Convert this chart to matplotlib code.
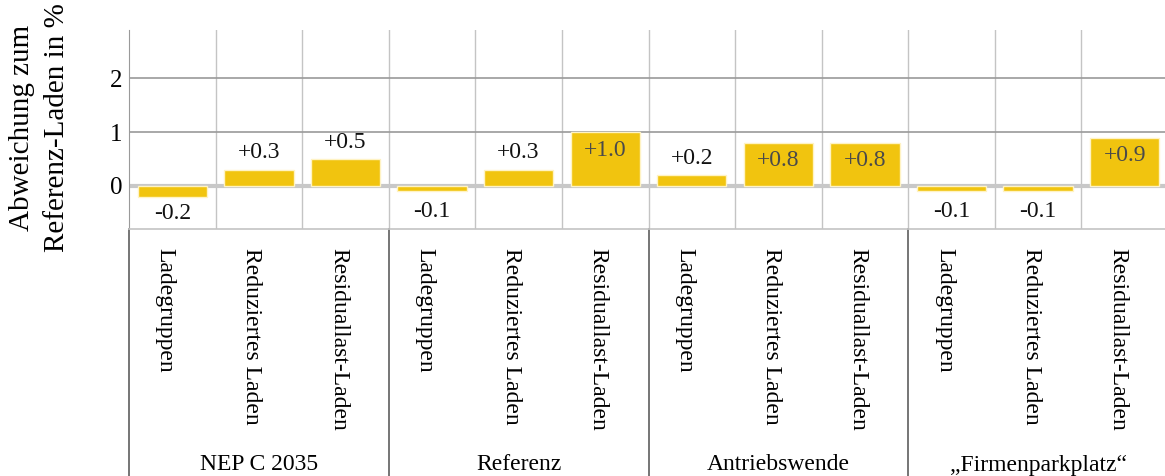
import matplotlib
matplotlib.use("Agg")
import matplotlib.pyplot as plt
import matplotlib.transforms as mtransforms
from matplotlib.lines import Line2D

plt.rcParams['font.family'] = ['Liberation Serif', 'DejaVu Serif']

groups = ["NEP C 2035", "Referenz", "Antriebswende", "\u201eFirmenparkplatz\u201c"]
methods = ["Ladegruppen", "Reduziertes Laden", "Residuallast-Laden"]
values = [
    [-0.2, 0.3, 0.5],
    [-0.1, 0.3, 1.0],
    [0.2, 0.8, 0.8],
    [-0.1, -0.1, 0.9],
]
yticks = [0, 1, 2]
ylabel = "Abweichung zum\nReferenz-Laden in %"

bar_color = "#F1C40F"
fs = 17

fig = plt.figure(figsize=(11.65, 4.76), dpi=100)
ax = fig.add_axes([129 / 1165, 1 - 229 / 476, 1039 / 1165, (229 - 30) / 476])

n_m = len(methods)
flat_vals = [v for row in values for v in row]
flat_labels = [m for _ in groups for m in methods]
xs = list(range(len(flat_vals)))

ax.set_xlim(-0.5, len(xs) - 0.5)
ax.set_ylim(-0.8, 2.9)

# grid
for xb in [i - 0.5 for i in range(1, len(xs))]:
    ax.axvline(xb, color="#c4c4c4", lw=1.0, zorder=0)
for yt in yticks[1:]:
    ax.axhline(yt, color="#9a9a9a", lw=1.2, zorder=0)
ax.axhline(0, color="#c8c8c8", lw=3.0, zorder=1)

ax.bar(xs, flat_vals, width=0.8, color=bar_color, edgecolor="#FFF3C4",
       linewidth=1.0, zorder=2)

# value labels
off = mtransforms.offset_copy
for x, v in zip(xs, flat_vals):
    txt = f"{v:+.1f}" if v > 0 else f"{v:.1f}"
    if v >= 0.75:
        t = off(ax.transData, fig=fig, x=0, y=-18, units='dots')
        ax.text(x, v, txt, ha='center', va='center', fontsize=fs,
                color="#4a4a4a", transform=t, zorder=3)
    elif v >= 0:
        t = off(ax.transData, fig=fig, x=0, y=17, units='dots')
        ax.text(x, v, txt, ha='center', va='center', fontsize=fs,
                color="#111111", transform=t, zorder=3)
    else:
        t = off(ax.transData, fig=fig, x=0, y=-17, units='dots')
        ax.text(x, min(v, -0.15), txt, ha='center', va='center', fontsize=fs,
                color="#111111", transform=t, zorder=3)

ax.set_yticks(yticks)
ax.set_yticklabels([str(t) for t in yticks], fontsize=18)
ax.tick_params(axis='y', length=0, pad=5)
ax.set_xticks([])
for s in ['top', 'right']:
    ax.spines[s].set_visible(False)
ax.spines['left'].set_color("#9a9a9a")
ax.spines['bottom'].set_color("#c4c4c4")
ax.spines['bottom'].set_linewidth(1.2)

fig.text(40 / 1165, 1 - 128 / 476, ylabel, rotation=90, ha='center',
         va='center', fontsize=21, linespacing=1.45)

# category labels below the axis
bt = mtransforms.blended_transform_factory(ax.transData, ax.transAxes)
cat_t = off(bt, fig=fig, x=-7, y=-19, units='dots')
for x, lab in zip(xs, flat_labels):
    ax.text(x, 0, lab, rotation=270, ha='center', va='top', fontsize=fs,
            transform=cat_t, clip_on=False)

# group separators and group names
for gi, g in enumerate(groups):
    x0 = gi * n_m - 0.5
    line = Line2D([x0, x0], [0, -1.3], transform=bt, color="#6a6a6a",
                  lw=1.3, clip_on=False)
    ax.add_line(line)
    gx = gi * n_m + (n_m - 1) / 2
    ax.text(gx, 0, g, ha='center', va='center', fontsize=fs,
            transform=off(bt, fig=fig, x=0, y=-(465 - 229), units='dots'),
            clip_on=False)

fig.savefig("out.png", dpi=100)
